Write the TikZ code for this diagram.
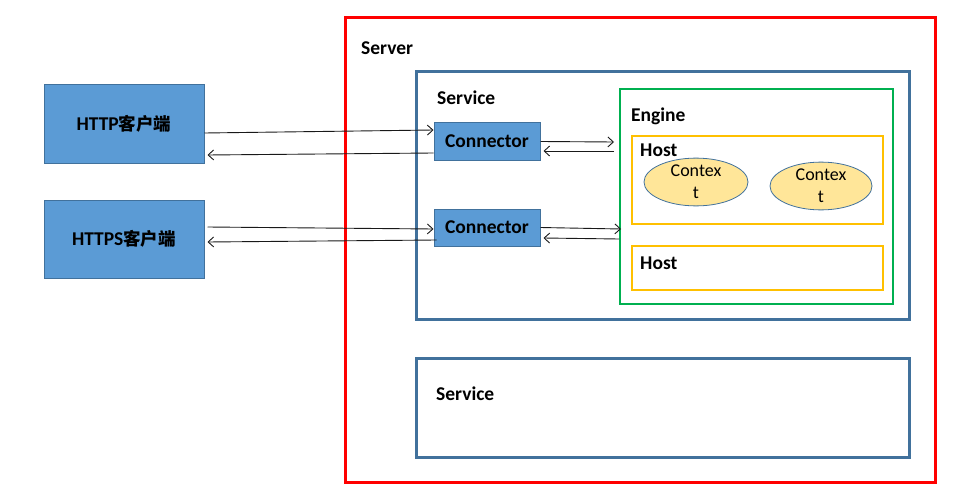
\documentclass[tikz,border=0pt]{standalone}
\usepackage{fontspec}
\setmainfont{Carlito}
\newfontfamily\zhfont{Noto Sans CJK SC}
\usetikzlibrary{arrows.meta,shapes.geometric}
\definecolor{srvred}{HTML}{FF0000}
\definecolor{steel}{HTML}{41719C}
\definecolor{enggreen}{HTML}{00B050}
\definecolor{hostorange}{HTML}{FFC000}
\definecolor{boxblue}{HTML}{5B9BD5}
\definecolor{ctxfill}{HTML}{FFE699}
\begin{document}
\begin{tikzpicture}[x=1pt,y=-1pt,font=\fontsize{18}{22}\selectfont]
\tikzstyle{frame}=[draw,rectangle,inner sep=0pt]
\tikzstyle{title}=[anchor=west,inner sep=0pt,font=\fontsize{19.5}{21}\selectfont\bfseries]
\tikzstyle{bluebox}=[draw=steel,fill=boxblue,rectangle,line width=1pt,font=\fontsize{19.5}{21}\selectfont\bfseries]
\tikzstyle{ctx}=[ellipse,draw=steel,fill=ctxfill,line width=0.8pt,align=center,inner sep=0pt]
\tikzstyle{link}=[-{Straight Barb[length=5.5pt,width=10pt]},line width=0.9pt,black!90]
\useasboundingbox (0,0) rectangle (955,500);
% frames
\node[frame,draw=srvred,line width=3pt,minimum width=590pt,minimum height=464pt] at (640,250) (server) {};
\node[frame,draw=steel,line width=3pt,minimum width=493pt,minimum height=247pt] at (662.5,195.5) (svcA) {};
\node[frame,draw=steel,line width=3pt,minimum width=493pt,minimum height=99pt] at (662.5,407.5) (svcB) {};
\node[frame,draw=enggreen,line width=2pt,minimum width=273pt,minimum height=215pt] at (756.5,196.5) (engine) {};
\node[frame,draw=hostorange,line width=2pt,minimum width=251pt,minimum height=88pt] at (757.5,180) (hostA) {};
\node[frame,draw=hostorange,line width=2pt,minimum width=251pt,minimum height=44pt] at (757.5,268) (hostB) {};
% titles
\node[title] at (361,48) (tserver) {Server};
\node[title] at (437,98) (tsvcA) {Service};
\node[title] at (436,394) (tsvcB) {Service};
\node[title] at (631,116) (tengine) {Engine};
\node[title] at (640,150) (thostA) {Host};
\node[title] at (640,263) (thostB) {Host};
% boxes
\node[bluebox,minimum width=160pt,minimum height=78pt] at (124,124) (http) {HTTP{\zhfont\bfseries\fontsize{17.5}{20}\selectfont 客户端}};
\node[bluebox,minimum width=160pt,minimum height=78pt] at (124,239) (https) {HTTPS{\zhfont\bfseries\fontsize{17.5}{20}\selectfont 客户端}};
\node[bluebox,minimum width=106pt,minimum height=37pt,inner sep=0pt] at (487,141.5) (connA) {Connector};
\node[bluebox,minimum width=106pt,minimum height=37pt,inner sep=0pt] at (487,227.5) (connB) {Connector};
\node[ctx,minimum width=104pt,minimum height=44pt] at (696,182) (ctxA) {Contex\\t};
\node[ctx,minimum width=102pt,minimum height=46pt] at (821,186) (ctxB) {Contex\\t};
% links
\draw[link] ([yshift=-9pt]http.east) -- ([yshift=11.5pt]connA.west);
\draw[link] ([yshift=-11.5pt]connA.west) -- ([xshift=3pt,yshift=-31pt]http.east);
\draw[link] (connA.east) -- ([xshift=-5pt,yshift=54.5pt]engine.west);
\draw[link] ([xshift=-5pt,yshift=45.5pt]engine.west) -- ([xshift=3pt,yshift=-9.5pt]connA.east);
\draw[link] ([xshift=3pt,yshift=12pt]https.east) -- ([yshift=-1.5pt]connB.west);
\draw[link] ([xshift=3pt,yshift=-12.5pt]connB.west) -- ([xshift=3pt,yshift=-3pt]https.east);
\draw[link] (connB.east) -- ([xshift=2pt,yshift=-32.5pt]engine.west);
\draw[link] ([yshift=-42.5pt]engine.west) -- ([xshift=3pt,yshift=-10.5pt]connB.east);
\end{tikzpicture}
\end{document}
